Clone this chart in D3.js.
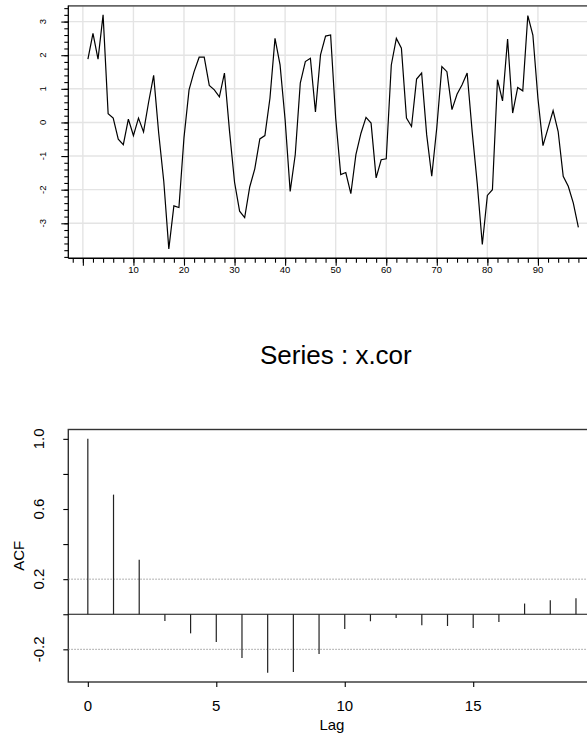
<!DOCTYPE html>
<html>
<head>
<meta charset="utf-8">
<script src="https://cdn.jsdelivr.net/npm/d3@7"></script>
<style>
  html, body { margin: 0; padding: 0; background: #fff; }
  svg { display: block; font-family: "Liberation Sans", Arial, Helvetica, sans-serif; }
</style>
</head>
<body>
<svg id="chart" width="587" height="741"></svg>
<script>
// Observed series x.cor (time index 1..98)
const seriesValues = [
  1.88, 2.65, 1.88, 3.20, 0.26, 0.13, -0.50, -0.66, 0.10, -0.39,
  0.13, -0.28, 0.60, 1.40, -0.32, -1.75, -3.76, -2.48, -2.53, -0.45,
  0.97, 1.51, 1.94, 1.94, 1.10, 0.97, 0.76, 1.47, -0.25, -1.78,
  -2.64, -2.83, -1.92, -1.38, -0.49, -0.39, 0.72, 2.50, 1.71, 0.08,
  -2.05, -0.96, 1.17, 1.81, 1.91, 0.31, 2.01, 2.57, 2.60, 0.13,
  -1.55, -1.49, -2.12, -0.96, -0.32, 0.15, -0.02, -1.65, -1.11, -1.08,
  1.71, 2.50, 2.21, 0.13, -0.12, 1.29, 1.47, -0.37, -1.60, -0.15,
  1.66, 1.51, 0.38, 0.84, 1.12, 1.47, -0.28, -1.82, -3.63, -2.17,
  -2.00, 1.27, 0.64, 2.48, 0.28, 1.04, 0.94, 3.18, 2.60, 0.72,
  -0.69, -0.17, 0.35, -0.27, -1.60, -1.90, -2.40, -3.12
];
const seriesXTickLabels = [10, 20, 30, 40, 50, 60, 70, 80, 90];
const seriesYTickLabels = [-3, -2, -1, 0, 1, 2, 3];

// Sample autocorrelation of x.cor
const acfLags = [0, 1, 2, 3, 4, 5, 6, 7, 8, 9, 10, 11, 12, 13, 14, 15, 16, 17, 18, 19];
const acfValues = [
  1.0, 0.682, 0.31, -0.038, -0.109, -0.158, -0.25, -0.333, -0.33, -0.227,
  -0.084, -0.04, -0.021, -0.063, -0.067, -0.078, -0.044, 0.061, 0.08, 0.091
];
const acfConfBound = [0.2];
const acfXTickLabels = [0, 5, 10, 15];
const acfYTickLabels = ["1.0", "0.6", "0.2", "-0.2"];
const acfTitle = ["Series : x.cor"];

const svg = d3.select("#chart");

// R-style 4% range padding
function padRange(lo, hi) {
  const p = (hi - lo) * 0.04;
  return [lo - p, hi + p];
}

/* ---------------- Top panel: time series with grid ---------------- */
const tsBox = { left: 68.3, right: 598, top: 5.5, bottom: 258.2 };
const xT = d3.scaleLinear()
  .domain(padRange(1, seriesValues.length))
  .range([tsBox.left, tsBox.right]);
const yT = d3.scaleLinear()
  .domain(padRange(d3.min(seriesValues), d3.max(seriesValues)))
  .range([tsBox.bottom, tsBox.top]);

const gTop = svg.append("g");

// grid
const xGrid = d3.range(0, 101, 10);
gTop.append("g").selectAll("line").data(xGrid).join("line")
  .attr("x1", d => xT(d)).attr("x2", d => xT(d))
  .attr("y1", tsBox.top).attr("y2", tsBox.bottom)
  .attr("stroke", "#e4e4e4").attr("stroke-width", 1.4);
gTop.append("g").selectAll("line").data(seriesYTickLabels).join("line")
  .attr("x1", tsBox.left).attr("x2", tsBox.right)
  .attr("y1", d => yT(d)).attr("y2", d => yT(d))
  .attr("stroke", "#e4e4e4").attr("stroke-width", 1.4);

// series line
const line = d3.line()
  .x((d, i) => xT(i + 1))
  .y(d => yT(d));
gTop.append("path")
  .datum(seriesValues)
  .attr("d", line)
  .attr("fill", "none")
  .attr("stroke", "#000")
  .attr("stroke-width", 1.2)
  .attr("stroke-linejoin", "miter");

// top border
gTop.append("line")
  .attr("x1", tsBox.left).attr("x2", 587)
  .attr("y1", tsBox.top + 0.3).attr("y2", tsBox.top + 0.3)
  .attr("stroke", "#666").attr("stroke-width", 1.8);

// y axis: minor ticks every 0.2, major at integers
const yMinor = d3.range(-40, 35, 2).map(v => v / 10);
const yAxisMinor = d3.axisLeft(yT).tickValues(yMinor).tickSize(4).tickFormat("");
const yAxisMajor = d3.axisLeft(yT).tickValues(seriesYTickLabels).tickSize(7).tickFormat("");
[yAxisMinor, yAxisMajor].forEach(ax => {
  const g = gTop.append("g").attr("transform", `translate(${tsBox.left},0)`).call(ax);
  g.select(".domain").remove();
  g.selectAll("line").attr("stroke", "#000").attr("stroke-width", 1.1);
});
gTop.append("line")
  .attr("x1", tsBox.left).attr("x2", tsBox.left)
  .attr("y1", tsBox.top).attr("y2", tsBox.bottom)
  .attr("stroke", "#000").attr("stroke-width", 1.3);
gTop.append("g").selectAll("text").data(seriesYTickLabels).join("text")
  .attr("transform", d => `translate(46.4,${yT(d)}) rotate(-90)`)
  .attr("text-anchor", "middle")
  .attr("font-size", 9.5)
  .attr("fill", "#000")
  .text(d => d);

// x axis: minor ticks every 2, major every 10
const xMinor = d3.range(-2, 102, 2);
const xAxisMinor = d3.axisBottom(xT).tickValues(xMinor).tickSize(4.5).tickFormat("");
const xAxisMajor = d3.axisBottom(xT).tickValues(xGrid).tickSize(7.5).tickFormat("");
[xAxisMinor, xAxisMajor].forEach(ax => {
  const g = gTop.append("g").attr("transform", `translate(0,${tsBox.bottom})`).call(ax);
  g.select(".domain").remove();
  g.selectAll("line").attr("stroke", "#000").attr("stroke-width", 1.1);
});
gTop.append("line")
  .attr("x1", tsBox.left).attr("x2", 587)
  .attr("y1", tsBox.bottom).attr("y2", tsBox.bottom)
  .attr("stroke", "#000").attr("stroke-width", 1.4);
gTop.append("g").selectAll("text").data(seriesXTickLabels).join("text")
  .attr("x", d => xT(d))
  .attr("y", 273)
  .attr("text-anchor", "middle")
  .attr("font-size", 9.5)
  .attr("fill", "#000")
  .text(d => d);

/* ---------------- Bottom panel: ACF ---------------- */
const acfBox = { left: 68.3, right: 595.5, top: 429.5, bottom: 682 };
const xA = d3.scaleLinear()
  .domain(padRange(0, d3.max(acfLags)))
  .range([acfBox.left, acfBox.right]);
const yA = d3.scaleLinear()
  .domain(padRange(Math.min(d3.min(acfValues), -acfConfBound[0]), Math.max(d3.max(acfValues), acfConfBound[0])))
  .range([acfBox.bottom, acfBox.top]);

const gBot = svg.append("g");

// title
gBot.append("text")
  .attr("x", (acfBox.left + acfBox.right) / 2 + 4)
  .attr("y", 364)
  .attr("text-anchor", "middle")
  .attr("font-size", 26)
  .attr("fill", "#000")
  .text(acfTitle[0]);

// frame
gBot.append("rect")
  .attr("x", acfBox.left).attr("y", acfBox.top)
  .attr("width", acfBox.right - acfBox.left).attr("height", acfBox.bottom - acfBox.top)
  .attr("fill", "none").attr("stroke", "#333").attr("stroke-width", 1.4);

// zero line and confidence bounds
gBot.append("line")
  .attr("x1", acfBox.left).attr("x2", acfBox.right)
  .attr("y1", yA(0)).attr("y2", yA(0))
  .attr("stroke", "#111").attr("stroke-width", 1.2);
gBot.append("g").selectAll("line").data([acfConfBound[0], -acfConfBound[0]]).join("line")
  .attr("x1", acfBox.left).attr("x2", acfBox.right)
  .attr("y1", d => yA(d)).attr("y2", d => yA(d))
  .attr("stroke", "#999").attr("stroke-width", 1)
  .attr("stroke-dasharray", "1.5,1.5");

// ACF spikes
gBot.append("g").selectAll("line").data(acfValues).join("line")
  .attr("x1", (d, i) => xA(acfLags[i])).attr("x2", (d, i) => xA(acfLags[i]))
  .attr("y1", yA(0)).attr("y2", d => yA(d))
  .attr("stroke", "#222").attr("stroke-width", 1.2);

// y axis
const acfYTicks = [-0.2, 0, 0.2, 0.4, 0.6, 0.8, 1.0];
const yAxA = d3.axisLeft(yA).tickValues(acfYTicks).tickSize(5).tickFormat("");
const gyA = gBot.append("g").attr("transform", `translate(${acfBox.left},0)`).call(yAxA);
gyA.select(".domain").remove();
gyA.selectAll("line").attr("stroke", "#000").attr("stroke-width", 1.1);
gBot.append("g").selectAll("text").data(acfYTickLabels).join("text")
  .attr("transform", d => `translate(43.5,${yA(+d)}) rotate(-90)`)
  .attr("text-anchor", "middle")
  .attr("font-size", 15)
  .attr("fill", "#000")
  .text(d => d);
gBot.append("text")
  .attr("transform", `translate(23.5,${(acfBox.top + acfBox.bottom) / 2}) rotate(-90)`)
  .attr("text-anchor", "middle")
  .attr("font-size", 15)
  .attr("fill", "#000")
  .text("ACF");

// x axis
const xAxA = d3.axisBottom(xA).tickValues(acfXTickLabels).tickSize(5).tickFormat("");
const gxA = gBot.append("g").attr("transform", `translate(0,${acfBox.bottom})`).call(xAxA);
gxA.select(".domain").remove();
gxA.selectAll("line").attr("stroke", "#000").attr("stroke-width", 1.1);
gBot.append("g").selectAll("text").data(acfXTickLabels).join("text")
  .attr("x", d => xA(d))
  .attr("y", 711)
  .attr("text-anchor", "middle")
  .attr("font-size", 15)
  .attr("fill", "#000")
  .text(d => d);
gBot.append("text")
  .attr("x", (acfBox.left + acfBox.right) / 2)
  .attr("y", 730)
  .attr("text-anchor", "middle")
  .attr("font-size", 15)
  .attr("fill", "#000")
  .text("Lag");
</script>
</body>
</html>
